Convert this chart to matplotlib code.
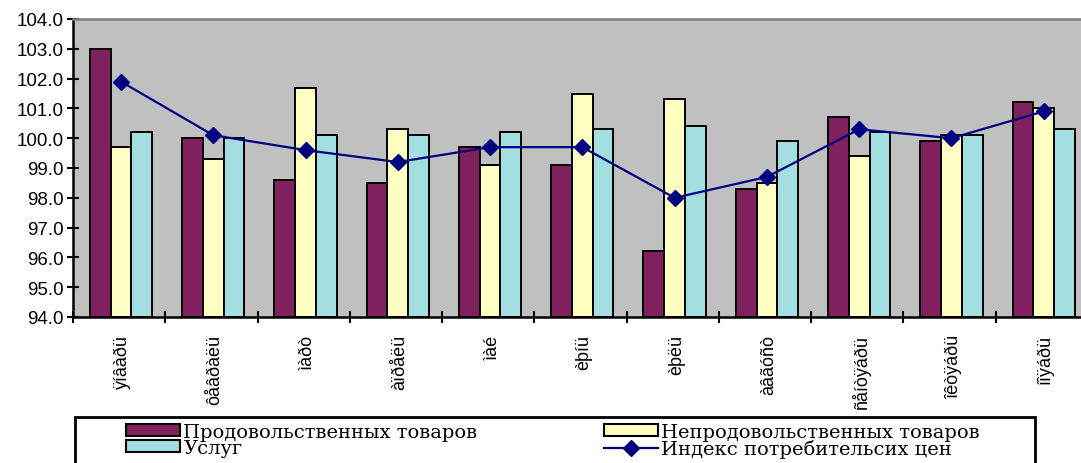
import matplotlib
matplotlib.use("Agg")
import matplotlib.pyplot as plt
import numpy as np
from matplotlib.patches import Rectangle, Patch
from matplotlib.lines import Line2D

categories = ["ÿíâàðü", "ôåâðàëü", "ìàðò", "àïðåëü", "ìàé", "èþíü",
              "èþëü", "àâãóñò", "ñåíòÿáðü", "îêòÿáðü", "íîÿáðü"]
food = [103.0, 100.0, 98.6, 98.5, 99.7, 99.1, 96.2, 98.3, 100.7, 99.9, 101.2]
nonfood = [99.7, 99.3, 101.7, 100.3, 99.1, 101.5, 101.3, 98.5, 99.4, 100.1, 101.0]
services = [100.2, 100.0, 100.1, 100.1, 100.2, 100.3, 100.4, 99.9, 100.2, 100.1, 100.3]
cpi = [101.9, 100.1, 99.6, 99.2, 99.7, 99.7, 98.0, 98.7, 100.3, 100.0, 100.9]
yticks = [94.0, 95.0, 96.0, 97.0, 98.0, 99.0, 100.0, 101.0, 102.0, 103.0, 104.0]

names = ["Продовольственных товаров", "Непродовольственных товаров",
         "Услуг", "Индекс потребительсих цен"]
c_food = "#80205E"
c_nonfood = "#FFFFC2"
c_serv = "#A3DFE0"
c_line = "#000080"

W, H = 1081, 464
fig = plt.figure(figsize=(W / 100, H / 100), dpi=100)
ax = fig.add_axes([73 / W, 1 - 318 / H, (1088 - 73) / W, (318 - 20) / H])
ax.set_facecolor("#C0C0C0")

x = np.arange(len(categories))
bw = 0.225
base = 94.0
ax.bar(x - bw + 0.02, np.array(food) - base, bw, bottom=base, color=c_food,
       edgecolor="black", linewidth=1.4, zorder=2)
ax.bar(x + 0.02, np.array(nonfood) - base, bw, bottom=base, color=c_nonfood,
       edgecolor="black", linewidth=1.4, zorder=2)
ax.bar(x + bw + 0.02, np.array(services) - base, bw, bottom=base, color=c_serv,
       edgecolor="black", linewidth=1.4, zorder=2)
ax.plot(x + 0.02, cpi, color=c_line, linewidth=1.6, marker="D", markersize=8.5,
        zorder=3)

ax.set_xlim(-0.5, len(categories) - 0.5)
ax.set_ylim(94, 104)
ax.set_yticks(yticks)
ax.set_yticklabels([f"{v:.1f}" for v in yticks], family="Liberation Sans",
                   fontsize=13.5)
ax.set_xticks(np.arange(len(categories) + 1) - 0.5)
ax.set_xticklabels([])
ax.set_xticks(x + 0.04, minor=True)
ax.set_xticklabels(categories, minor=True, rotation=90, family="Liberation Sans",
                   fontsize=13, va="top")
ax.tick_params(axis="x", which="minor", length=0, pad=12)
ax.tick_params(axis="both", which="major", direction="inout", length=8,
               width=1.5, color="black")
ax.tick_params(axis="y", pad=3)

for s in ["left", "bottom"]:
    ax.spines[s].set_color("black")
    ax.spines[s].set_linewidth(1.8)
ax.spines["top"].set_color("#808080")
ax.spines["top"].set_linewidth(1.8)
ax.spines["right"].set_visible(False)

# legend frame (top at y=418 px, bottom below the figure edge)
fig.patches.append(Rectangle((75 / W, -10 / H), (1035 - 75) / W, (H - 418 + 10) / H,
                             transform=fig.transFigure, fill=False,
                             edgecolor="black", linewidth=2, zorder=5))

h_food = Patch(facecolor=c_food, edgecolor="black", linewidth=1.5)
h_nonfood = Patch(facecolor=c_nonfood, edgecolor="black", linewidth=1.5)
h_serv = Patch(facecolor=c_serv, edgecolor="black", linewidth=1.5)
h_cpi = Line2D([], [], color=c_line, linewidth=1.6, marker="D", markersize=8.5)

lp = dict(frameon=False, prop={"family": "DejaVu Serif", "size": 14},
          handlelength=2.8, handleheight=0.58, handletextpad=0.15,
          labelspacing=-0.1, borderpad=0, borderaxespad=0, loc="upper left")
fig.legend([h_food, h_serv], [names[0], names[2]],
           bbox_to_anchor=(126 / W, 1 - 424 / H), **lp)
fig.legend([h_nonfood, h_cpi], [names[1], names[3]],
           bbox_to_anchor=(604 / W, 1 - 424 / H), **lp)

fig.savefig("out.png", dpi=100)
